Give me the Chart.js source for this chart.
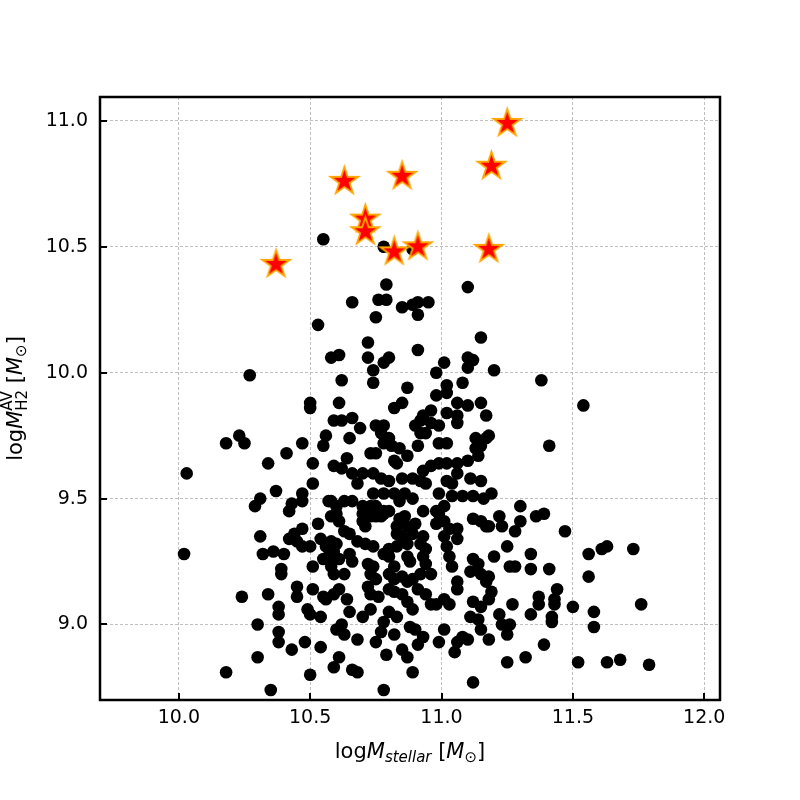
<!DOCTYPE html>
<html>
<head>
<meta charset="utf-8">
<script src="https://cdn.jsdelivr.net/npm/chart.js@4.4.0/dist/chart.umd.min.js"></script>
<style>
  html, body { margin: 0; padding: 0; background: #fff; }
  canvas { display: block; }
</style>
</head>
<body>
<canvas id="chart" width="800" height="800"></canvas>
<script>
// Galaxy sample: log stellar mass vs log H2 mass
const massStellar = [
  10.55,10.78,10.89,10.79,11.10,10.66,10.76,10.79,10.85,10.89,
  10.91,10.95,10.75,10.91,10.53,11.15,10.72,10.91,10.61,10.58,
  10.72,10.78,10.80,11.01,11.10,11.12,11.10,10.74,10.98,11.20,
  10.27,10.62,10.74,11.38,10.87,11.02,11.08,11.02,10.98,10.50,
  10.50,10.61,10.82,10.85,11.06,11.10,11.15,11.54,11.17,10.96,
  10.93,10.92,11.02,11.06,11.06,10.59,10.62,10.66,10.69,10.75,
  10.78,10.90,10.96,10.99,
  10.18,10.23,10.25,10.47,10.56,10.55,10.41,10.34,10.51,10.03,
  10.51,10.37,10.47,10.47,10.31,10.29,10.43,10.42,10.57,10.53,
  10.47,10.44,10.42,10.45,10.31,10.47,10.50,10.54,10.56,10.32,
  10.36,10.40,10.02,10.55,10.57,10.39,10.51,
  10.65,10.77,10.80,10.92,10.94,10.91,10.99,11.02,11.13,11.17,
  10.78,10.81,10.84,10.73,10.75,10.87,10.83,10.82,10.64,10.59,
  10.62,10.66,10.70,10.74,10.77,10.80,10.85,10.89,10.92,10.94,
  10.96,10.93,10.99,11.02,11.06,11.10,11.14,11.13,11.15,11.06,
  11.02,11.04,11.11,11.15,10.68,10.74,10.78,10.82,10.86,10.89,
  10.84,10.58,10.60,10.63,10.66,10.70,10.73,10.75,10.78,10.80,
  10.99,11.04,11.08,11.12,11.16,11.01,10.99,10.98,10.93,10.60,
  10.58,10.61,10.70,10.73,10.75,10.70,10.71,10.77,10.78,10.84,
  10.86,10.83,10.87,10.90,10.98,11.01,11.12,11.15,11.17,11.03,
  11.06,10.83,10.85,10.89,10.93,11.01,11.06,10.63,10.65,10.68,
  10.71,10.74,10.58,10.60,10.80,10.83,10.87,10.92,10.94,11.02,
  11.03,10.59,10.61,10.65,10.66,10.78,10.80,10.87,10.88,10.93,
  10.94,10.72,10.74,11.04,11.12,11.14,10.82,10.58,
  11.18,11.41,11.19,11.30,11.22,11.23,11.30,11.28,11.36,11.39,
  11.47,11.18,11.25,11.20,11.34,11.34,11.26,11.28,11.41,11.56,
  11.61,11.63,11.73,
  10.39,10.24,10.34,10.45,10.45,10.51,10.55,10.56,10.38,10.38,
  10.49,10.50,10.54,10.30,10.38,10.38,10.43,10.48,10.54,10.30,
  10.18,10.50,10.35,
  10.59,10.63,10.73,10.75,10.72,10.80,10.82,10.80,10.85,10.87,
  10.89,10.92,10.96,11.06,11.06,11.11,11.15,11.17,10.59,10.61,
  10.64,10.73,10.76,10.82,10.85,10.91,10.94,10.87,10.89,10.96,
  10.98,11.01,11.03,11.12,11.15,10.65,10.70,10.73,10.80,10.83,
  10.78,10.77,11.11,11.14,10.62,10.60,10.63,10.88,10.90,11.01,
  11.15,10.68,10.82,10.75,10.93,10.91,10.99,11.08,11.06,11.10,
  11.18,10.85,10.87,10.79,11.05,10.61,10.59,10.66,10.68,10.89,
  11.12,10.78,
  11.56,11.18,11.19,11.18,11.44,11.37,11.37,11.43,11.43,11.27,
  11.50,11.76,11.58,11.22,11.34,11.42,11.42,11.23,11.26,11.58,
  11.25,11.39,11.25,11.32,11.52,11.63,11.68,11.79
];
const massH2 = [
  10.53,10.50,10.49,10.35,10.34,10.28,10.29,10.29,10.26,10.27,
  10.28,10.28,10.22,10.23,10.19,10.14,10.12,10.09,10.07,10.06,
  10.06,10.04,10.06,10.04,10.06,10.05,10.02,10.01,10.00,10.01,
  9.99,9.97,9.96,9.97,9.94,9.95,9.96,9.92,9.91,9.88,
  9.86,9.88,9.86,9.88,9.88,9.87,9.88,9.87,9.83,9.85,
  9.83,9.81,9.84,9.83,9.80,9.81,9.81,9.82,9.78,9.79,
  9.79,9.79,9.80,9.79,
  9.72,9.75,9.72,9.72,9.75,9.71,9.68,9.64,9.64,9.60,
  9.56,9.53,9.52,9.49,9.50,9.47,9.48,9.45,9.49,9.40,
  9.38,9.36,9.34,9.33,9.35,9.31,9.31,9.34,9.31,9.28,
  9.29,9.28,9.28,9.26,9.27,9.22,9.23,
  9.74,9.76,9.74,9.76,9.76,9.71,9.72,9.72,9.74,9.74,
  9.72,9.71,9.70,9.68,9.68,9.67,9.64,9.65,9.66,9.63,
  9.62,9.60,9.60,9.60,9.58,9.57,9.58,9.58,9.57,9.56,
  9.63,9.61,9.64,9.64,9.64,9.65,9.67,9.70,9.71,9.60,
  9.57,9.56,9.58,9.57,9.56,9.52,9.52,9.52,9.52,9.50,
  9.49,9.49,9.47,9.49,9.49,9.47,9.47,9.47,9.45,9.45,
  9.52,9.51,9.51,9.51,9.50,9.47,9.44,9.45,9.45,9.44,
  9.43,9.41,9.44,9.43,9.43,9.41,9.39,9.43,9.44,9.42,
  9.43,9.39,9.39,9.40,9.40,9.41,9.42,9.41,9.39,9.38,
  9.38,9.36,9.35,9.36,9.35,9.35,9.34,9.37,9.36,9.33,
  9.32,9.31,9.33,9.32,9.30,9.31,9.32,9.32,9.30,9.31,
  9.27,9.29,9.26,9.28,9.25,9.28,9.27,9.27,9.25,9.27,
  9.24,9.24,9.23,9.23,9.26,9.24,9.23,9.23,
  9.75,9.71,9.52,9.47,9.43,9.39,9.41,9.37,9.43,9.44,
  9.37,9.39,9.31,9.27,9.28,9.22,9.23,9.23,9.22,9.28,
  9.30,9.31,9.30,
  9.20,9.11,9.12,9.15,9.11,9.14,9.11,9.10,9.07,9.04,
  9.06,9.04,9.03,9.00,8.97,8.93,8.90,8.93,8.91,8.87,
  8.81,8.80,8.74,
  9.20,9.20,9.20,9.18,9.15,9.20,9.18,9.14,9.19,9.17,
  9.18,9.20,9.20,9.17,9.14,9.21,9.20,9.17,9.12,9.14,
  9.10,9.12,9.11,9.13,9.12,9.14,9.12,9.09,9.06,9.08,
  9.08,9.10,9.08,9.09,9.07,9.05,9.03,9.06,9.05,9.03,
  9.01,8.97,9.03,9.02,9.00,8.98,8.96,8.99,8.98,8.98,
  8.98,8.94,8.96,8.93,8.95,8.92,8.93,8.95,8.93,8.94,
  8.94,8.90,8.87,8.88,8.89,8.87,8.83,8.82,8.81,8.81,
  8.77,8.74,
  9.19,9.19,9.13,9.10,9.14,9.11,9.08,9.10,9.08,9.08,
  9.07,9.08,9.05,9.04,9.04,9.03,9.01,9.00,9.00,8.99,
  8.96,8.92,8.85,8.87,8.85,8.85,8.86,8.84
];

// highlighted galaxies (star markers)
const starStellar = [11.25, 11.19, 10.63, 10.85, 10.71, 10.71, 10.82, 10.91, 11.18, 10.37];
const starH2 = [10.99, 10.82, 10.76, 10.78, 10.61, 10.56, 10.48, 10.50, 10.49, 10.43];

const xTicks = [10.0, 10.5, 11.0, 11.5, 12.0];
const yTicks = [9.0, 9.5, 10.0, 10.5, 11.0];

const FONT = "'DejaVu Sans', sans-serif";

// filled five point star, red with orange edge
function makeStar(r) {
    const size = Math.ceil(r * 2 + 6);
    const c = document.createElement('canvas');
    c.width = size;
    c.height = size;
    const g = c.getContext('2d');
    g.translate(size / 2, size / 2);
    g.beginPath();
    for (let i = 0; i < 10; i++) {
        const rad = i % 2 ? r * 0.382 : r;
        const a = -Math.PI / 2 + i * Math.PI / 5;
        g.lineTo(rad * Math.cos(a), rad * Math.sin(a));
    }
    g.closePath();
    g.fillStyle = '#ff0000';
    g.fill();
    g.lineJoin = 'miter';
    g.strokeStyle = '#ffa500';
    g.lineWidth = 1.8;
    g.stroke();
    return c;
}

// draw a label made of pieces (italic, sub/superscripts), centred at 0,0
function drawParts(ctx, parts) {
    let total = 0;
    parts.forEach(p => {
        ctx.font = p.font;
        p.w = ctx.measureText(p.t).width;
        if (p.advance !== false) total += p.w;
    });
    let x = -total / 2;
    ctx.fillStyle = '#000';
    ctx.textBaseline = 'alphabetic';
    ctx.textAlign = 'left';
    parts.forEach(p => {
        ctx.font = p.font;
        ctx.fillText(p.t, x, p.dy || 0);
        if (p.advance !== false) x += p.w;
    });
}

const big = '21px ' + FONT;
const bigIt = 'italic 21px ' + FONT;
const small = '15px ' + FONT;
const smallIt = 'italic 15px ' + FONT;

const xLabel = [
    { t: 'log', font: big },
    { t: 'M', font: bigIt },
    { t: 'stellar', font: smallIt, dy: 4 },
    { t: ' [', font: big },
    { t: 'M', font: bigIt },
    { t: '\u2299', font: small, dy: 4 },
    { t: ']', font: big }
];
const yLabel = [
    { t: 'log', font: big },
    { t: 'M', font: bigIt },
    { t: 'AV', font: small, dy: -10, advance: false },
    { t: 'H2', font: small, dy: 5 },
    { t: ' [', font: big },
    { t: 'M', font: bigIt },
    { t: '\u2299', font: small, dy: 4 },
    { t: ']', font: big }
];

const framePlugin = {
    id: 'frame',
    afterDraw(chart) {
        const ctx = chart.ctx;
        const a = chart.chartArea;
        const xs = chart.scales.x;
        const ys = chart.scales.y;
        ctx.save();
        // inward ticks
        ctx.strokeStyle = '#000';
        ctx.lineWidth = 2;
        xTicks.forEach(v => {
            const px = Math.round(xs.getPixelForValue(v));
            ctx.beginPath();
            ctx.moveTo(px, a.bottom);
            ctx.lineTo(px, a.bottom - 7);
            ctx.stroke();
        });
        yTicks.forEach(v => {
            const py = Math.round(ys.getPixelForValue(v));
            ctx.beginPath();
            ctx.moveTo(a.left, py);
            ctx.lineTo(a.left + 7, py);
            ctx.stroke();
        });
        // frame
        ctx.lineWidth = 2.5;
        ctx.strokeRect(a.left, a.top, a.right - a.left, a.bottom - a.top);

        // axis titles
        ctx.save();
        ctx.translate((a.left + a.right) / 2, 758);
        drawParts(ctx, xLabel);
        ctx.restore();

        ctx.save();
        ctx.translate(22, (a.top + a.bottom) / 2);
        ctx.rotate(-Math.PI / 2);
        drawParts(ctx, yLabel);
        ctx.restore();
        ctx.restore();
    }
};

const galaxies = massStellar.map((m, i) => ({ x: m, y: massH2[i] }));
const starred = starStellar.map((m, i) => ({ x: m, y: starH2[i] }));

new Chart(document.getElementById('chart'), {
    type: 'scatter',
    data: {
        datasets: [
            {
                label: 'stars',
                data: starred,
                pointStyle: makeStar(14.5),
                pointRadius: 14,
                order: 0
            },
            {
                label: 'galaxies',
                data: galaxies,
                backgroundColor: '#000',
                borderColor: '#000',
                borderWidth: 0,
                pointRadius: 6.3,
                order: 1
            }
        ]
    },
    options: {
        responsive: false,
        animation: false,
        layout: { padding: { top: 97, right: 80, left: 0, bottom: 0 } },
        plugins: {
            legend: { display: false },
            tooltip: { enabled: false }
        },
        scales: {
            x: {
                type: 'linear',
                min: 9.7,
                max: 12.06,
                afterBuildTicks: (s) => { s.ticks = xTicks.map(v => ({ value: v })); },
                afterFit: (s) => { s.height = 100; },
                grid: { color: '#b0b0b0', lineWidth: 0.8, drawTicks: false },
                border: { display: false, dash: [3, 2] },
                ticks: {
                    padding: 7,
                    color: '#000',
                    font: { family: FONT, size: 19 },
                    callback: (v) => v.toFixed(1)
                }
            },
            y: {
                type: 'linear',
                min: 8.7,
                max: 11.095,
                afterBuildTicks: (s) => { s.ticks = yTicks.map(v => ({ value: v })); },
                afterFit: (s) => { s.width = 100; },
                grid: { color: '#b0b0b0', lineWidth: 0.8, drawTicks: false },
                border: { display: false, dash: [3, 2] },
                ticks: {
                    padding: 12,
                    color: '#000',
                    font: { family: FONT, size: 19 },
                    callback: (v) => v.toFixed(1)
                }
            }
        }
    },
    plugins: [framePlugin]
});
</script>
</body>
</html>
